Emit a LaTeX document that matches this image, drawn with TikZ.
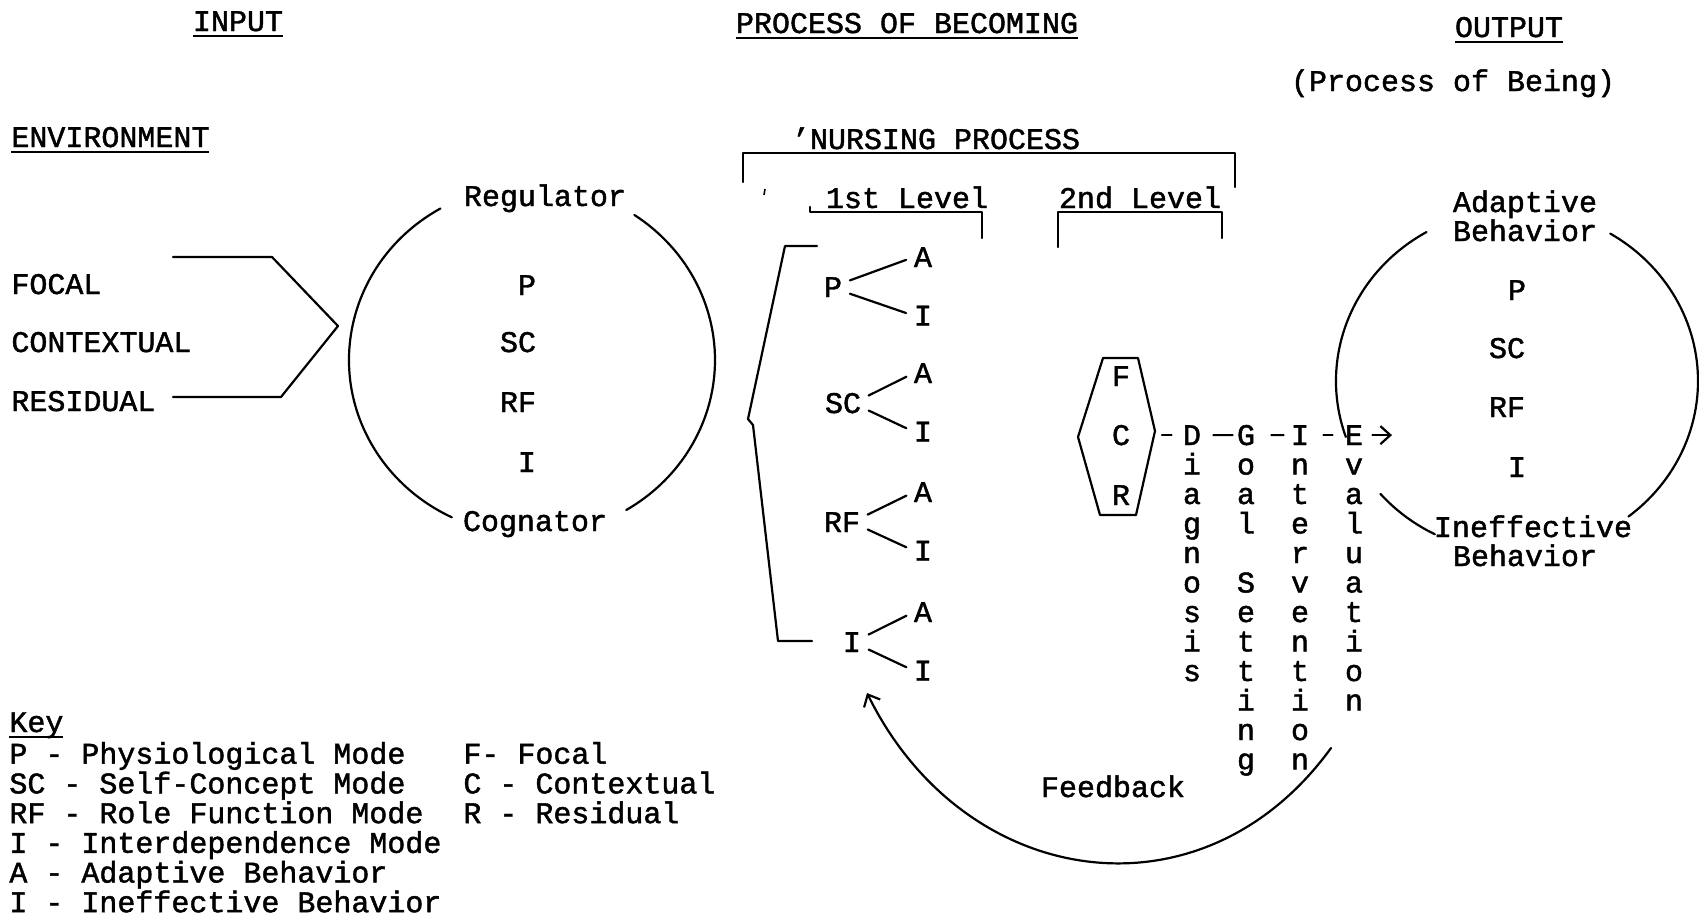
\documentclass[tikz,border=0pt]{standalone}
\usepackage{fontspec}
\setmainfont{Liberation Mono}[RawFeature={embolden=1.5}]
\usetikzlibrary{arrows.meta}
\tikzset{>={Straight Barb[length=5pt,width=9pt]}}
\tikzset{
  lbl/.style={inner sep=0pt, anchor=base},
  lblw/.style={inner sep=0pt, anchor=base west},
  ln/.style={line width=1.1pt, line cap=round, line join=round},
}
% typed underline
\newcommand{\undl}[1]{\setbox0\hbox{#1}\rlap{\copy0}\rule[-3pt]{\wd0}{0.9pt}}

\begin{document}
\begin{tikzpicture}[x=0.5pt, y=-0.5pt, font=\fontsize{15}{15}\selectfont]
\useasboundingbox (0,0) rectangle (1699,918);
% headings
\node[lbl] (input) at (238,31) {\undl{INPUT}};
\node[lbl] (becoming) at (907,33) {\undl{PROCESS OF BECOMING}};
\node[lbl] (output) at (1509,37) {\undl{OUTPUT}};
\node[lbl] (being) at (1453,91) {(Process of Being)};
\node[lblw] (env) at (11,147) {\undl{ENVIRONMENT}};
\node[lbl] (nursing) at (936,149) {'NURSING PROCESS};
\node[lbl] (lev1) at (907,208) {1st Level};
\node[lbl] (lev2) at (1140,208) {2nd Level};
\draw[ln] (743,182) -- (743,153) -- (1235,153) -- (1235,187);
\draw[line width=0.8pt] (765,189) -- (764,195);
\draw[ln] (810,207) -- (810,212) -- (982,212) -- (982,238);
\draw[ln] (1058,247) -- (1058,212) -- (1222,212) -- (1222,238);

% input
\node[lblw] (focal) at (11,294) {FOCAL};
\node[lblw] (contextual) at (11,352) {CONTEXTUAL};
\node[lblw] (residual) at (11,411) {RESIDUAL};
\coordinate (focin) at (173,257);
\coordinate (resin) at (173,397);
\coordinate (tip) at (338,326);
\draw[ln] (focin) -- (272,257) -- (tip);
\draw[ln] (resin) -- (281,397) -- (tip);

% regulator / cognator circle
\coordinate (lc) at (532,360);
\draw[ln] (lc) ++(-120:183 and 175) arc[start angle=-120, end angle=-244, x radius=183, y radius=175];
\draw[ln] (lc) ++(-56:183 and 175) arc[start angle=-56, end angle=59, x radius=183, y radius=175];
\node[lbl] (regulator) at (545,206) {Regulator};
\node[lbl] (cognator) at (535,531) {Cognator};
\foreach \m/\x/\y [count=\k] in {P/527/295, SC/518/352, RF/518/412, I/527/472}
  \node[lbl] (lm\k) at (\x,\y) {\m};

% first level
\draw[ln] (817,246) -- (785,246) -- (748,419) -- (753,425) -- (778,641) -- (812,641);
\foreach \m/\x/\y [count=\k] in {P/833/297, SC/843/413, RF/842/532, I/852/652} {
  \node[lbl] (md\k) at (\x,\y) {\m};
  \node[lbl] (ad\k) at (923,\y-30) {A};
  \node[lbl] (ie\k) at (923,\y+28.5) {I};
  \draw[ln, shorten <=4pt, shorten >=4pt] ([yshift=2pt]md\k.east) -- (ad\k.west);
  \draw[ln, shorten <=4pt, shorten >=4pt] ([yshift=-2pt]md\k.east) -- (ie\k.west);
}

% second level
\draw[ln] (1103,358) -- (1138,358) -- (1155,431) -- (1136,515) -- (1100,515) -- (1078,437) -- cycle;
\coordinate (hexr) at (1155,431);
\foreach \m/\y [count=\k] in {F/386, C/445, R/505}
  \node[lbl] (fcr\k) at (1121,\y) {\m};
\foreach \w/\x/\l in {diag/1192/{D,i,a,g,n,o,s,i,s},
    goal/1246/{G,o,a,l,{},S,e,t,t,i,n,g},
    intv/1300/{I,n,t,e,r,v,e,n,t,i,o,n},
    eval/1354/{E,v,a,l,u,a,t,i,o,n}}
  \foreach \c [count=\k from 0] in \l
    \node[lbl] (\w\k) at (\x,445+29.5*\k) {\c};
\draw[ln, shorten <=3.5pt, shorten >=5.5pt] (diag0.west -| hexr) -- (diag0.west);
\draw[ln, shorten <=6pt, shorten >=2pt] (diag0.east) -- (goal0.west);
\draw[ln, shorten <=8pt, shorten >=3.5pt] (goal0.east) -- (intv0.west);
\draw[ln, shorten <=7pt, shorten >=6pt] (intv0.east) -- (eval0.west);
\coordinate (evout) at (1392,437);
\draw[ln, ->, shorten <=4.5pt] (eval0.east) -- (eval0.east -| evout);

% output circle
\coordinate (rc) at (1517,381);
\draw[ln] (rc) ++(-120:181 and 172) arc[start angle=-120, end angle=-199, x radius=181, y radius=172];
\draw[ln] (rc) ++(-59:181 and 172) arc[start angle=-59, end angle=52, x radius=181, y radius=172];
\draw[ln] (rc) ++(139:181 and 172) arc[start angle=139, end angle=117, x radius=181, y radius=172];
\node[lbl] (adapt) at (1525,212) {Adaptive};
\node[lbl] (adaptb) at (1525,241) {Behavior};
\foreach \m/\x/\y [count=\k] in {P/1517/300, SC/1507/358, RF/1507/417, I/1517/477}
  \node[lbl] (rm\k) at (\x,\y) {\m};
\node[lbl] (ineff) at (1533,537) {Ineffective};
\node[lbl] (ineffb) at (1525,566) {Behavior};

% feedback
\coordinate (fbs) at (1331,748);
\coordinate (fbe) at (867,693);
\draw[ln, ->] (fbs) .. controls (1202,926) and (964,890) .. (fbe);
\node[lbl] (feedback) at (1113,797) {Feedback};

% key
\node[lblw] (key) at (9,732) {\undl{Key}};
\foreach \t [count=\k] in {P - Physiological Mode, SC - Self-Concept Mode,
    RF - Role Function Mode, I - Interdependence Mode,
    A - Adaptive Behavior, I - Ineffective Behavior}
  \node[lblw] (keyl\k) at (9,734+29.7*\k) {\t};
\foreach \t [count=\k] in {F- Focal, C - Contextual, R - Residual}
  \node[lblw] (keyr\k) at (463,734+29.7*\k) {\t};
\end{tikzpicture}
\end{document}
